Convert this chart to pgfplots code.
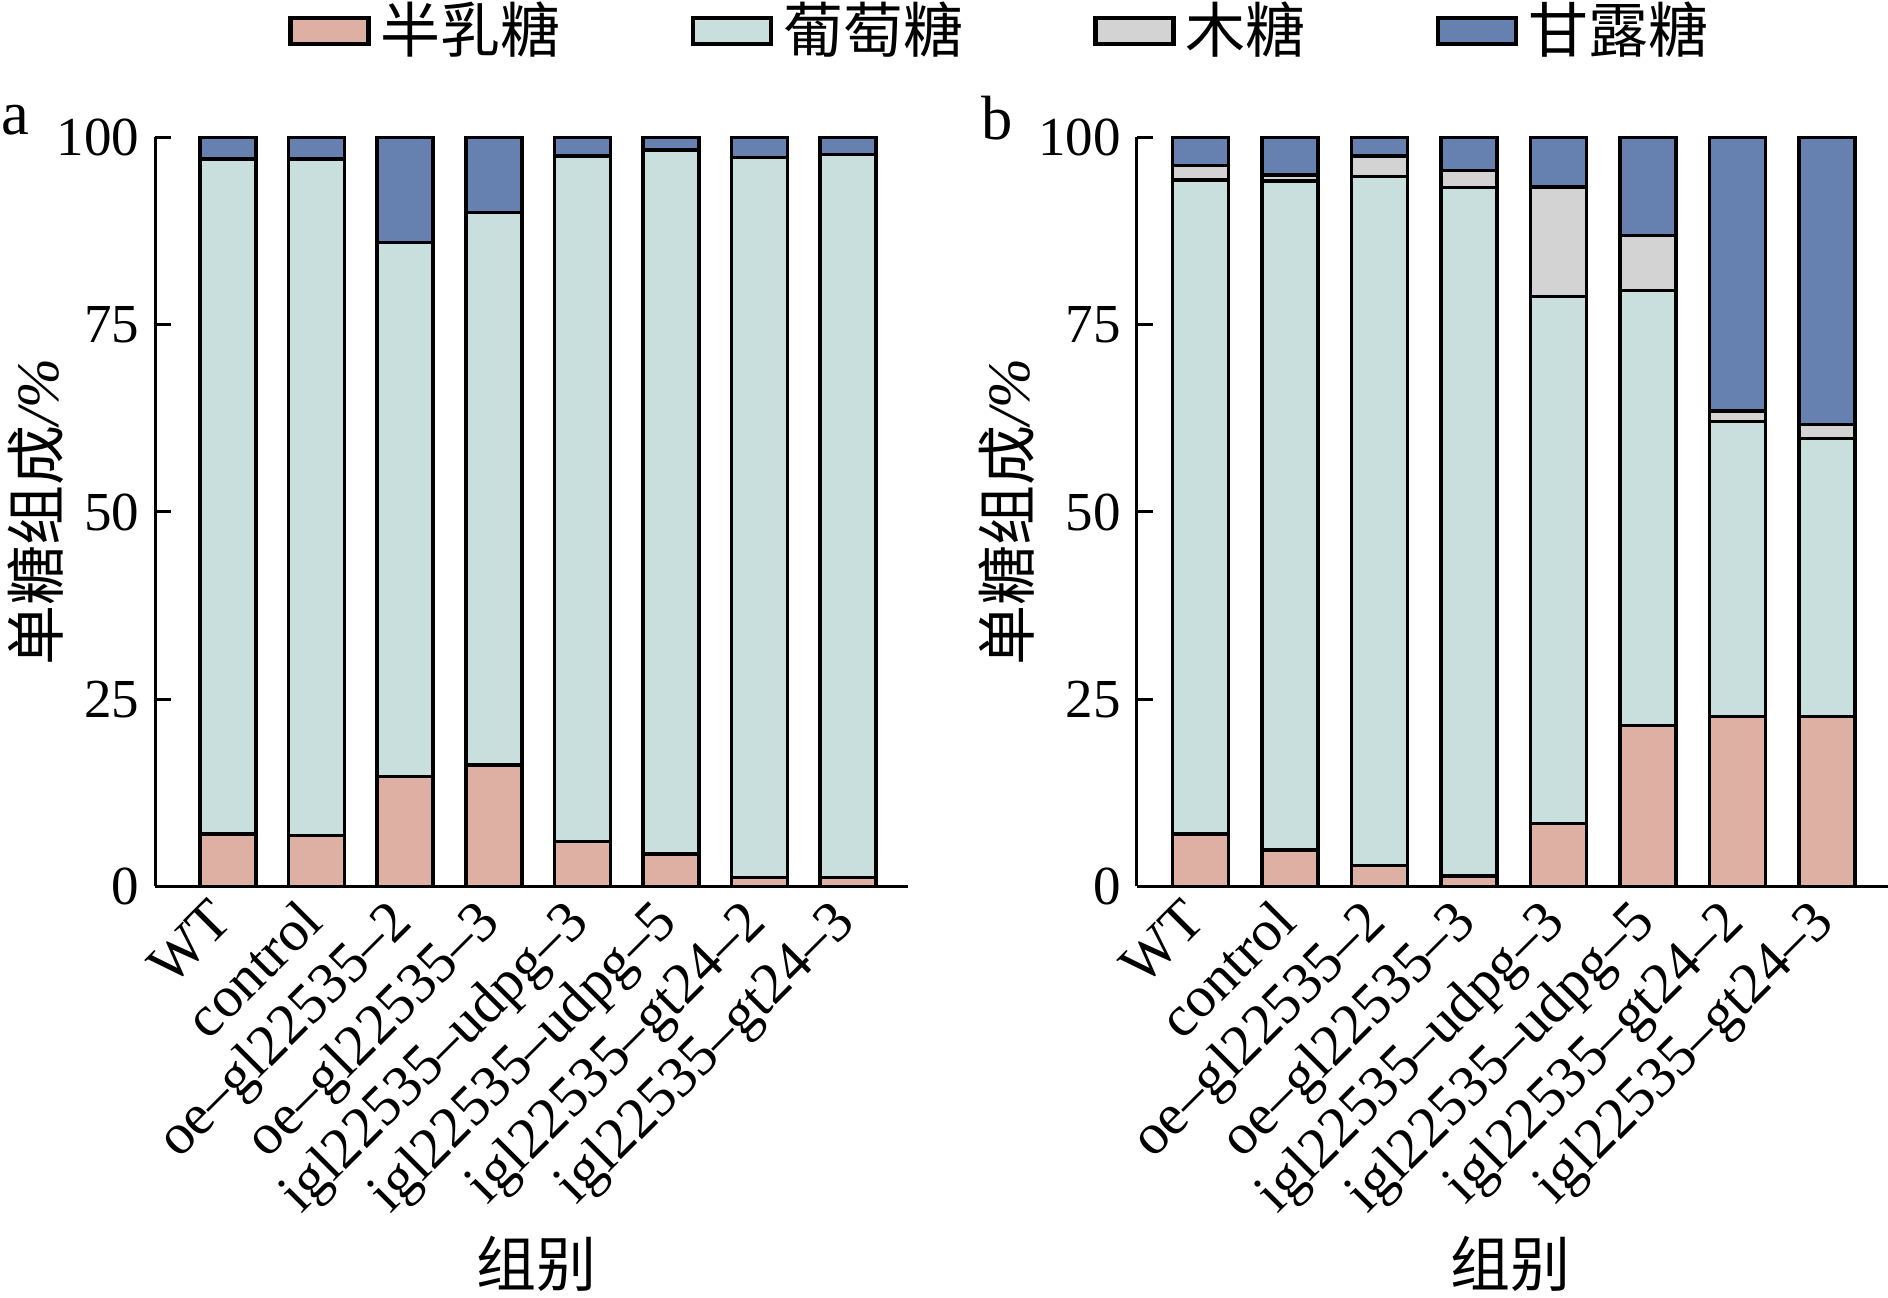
\documentclass[border=0pt]{standalone}
\usepackage{fontspec}
\setmainfont{Liberation Serif}
\newfontfamily\cjk{Noto Sans CJK SC}
\usepackage{pgfplots}
\usepackage{pgfplotstable}
\pgfplotsset{compat=1.18}
\definecolor{cgal}{HTML}{DEB0A4}
\definecolor{cglu}{HTML}{C8DFDD}
\definecolor{cxyl}{HTML}{D3D3D3}
\definecolor{cman}{HTML}{6680B0}

\pgfplotstableread{
x gal glu man
0 7.0 90.1 2.9
1 6.8 90.3 2.9
2 14.7 71.3 14.0
3 16.2 73.8 10.0
4 6.0 91.5 2.5
5 4.35 93.95 1.7
6 1.2 96.1 2.7
7 1.2 96.5 2.3
}\dataA
\pgfplotstableread{
x gal glu xyl man
0 7.0 87.3 1.95 3.75
1 4.9 89.3 0.8 5.0
2 2.8 92.0 2.7 2.5
3 1.43 91.87 2.3 4.4
4 8.4 70.4 14.6 6.6
5 21.5 58.05 7.35 13.1
6 22.7 39.4 1.4 36.5
7 22.7 37.1 1.9 38.3
}\dataB

\pgfplotsset{
  myaxis/.style={
    ybar stacked, bar width=11.2pt,
    scale only axis, height=149.8pt,
    ymin=0, ymax=100, ytick={0,25,50,75,100},
    xtick={0,...,7},
    xticklabels={WT,control,oe–gl22535–2,oe–gl22535–3,igl22535–udpg–3,igl22535–udpg–5,igl22535–gt24–2,igl22535–gt24–3},
    axis x line=bottom, axis y line=left,
    axis line style={-, line width=0.6pt, black},
    tick align=inside, major tick length=3.2pt,
    x tick style={draw=none},
    y tick style={line width=0.6pt, black},
    /pgf/number format/assume math mode=true,
    yticklabel style={font=\fontsize{11}{13}\selectfont, inner sep=0pt, xshift=-3pt},
    xticklabel style={xshift=-4pt, yshift=-0.3pt, rotate=45, anchor=north east, font=\fontsize{11.6}{14}\selectfont, inner sep=1pt},
    ylabel={{\cjk 单糖组成}{\itshape /\%}},
    ylabel style={font=\fontsize{12}{14}\selectfont},
    xlabel={\cjk 组别},
    xlabel style={font=\fontsize{12}{14}\selectfont, anchor=center},
    clip=false,
  },
  barst/.style={draw=black, line width=0.7pt},
}

\begin{document}
\begin{tikzpicture}
\useasboundingbox (0,0) rectangle (377.6pt,259.6pt);

\begin{axis}[myaxis,
  at={(31pt,82.3pt)}, anchor=south west,
  width=150.6pt, xmin=-0.824, xmax=7.675,
  ylabel style={at={(axis description cs:-0.158,0.5)}, anchor=center},
  xlabel style={at={(axis description cs:0.506,-0.504)}},
]
\addplot[barst, fill=cgal] table[x=x,y=gal]{\dataA};
\addplot[barst, fill=cglu] table[x=x,y=glu]{\dataA};
\addplot[barst, fill=cman] table[x=x,y=man]{\dataA};
\end{axis}

\begin{axis}[myaxis,
  at={(227.3pt,82.3pt)}, anchor=south west,
  width=150.3pt, xmin=-0.717, xmax=7.68,
  ylabel style={at={(axis description cs:-0.172,0.5)}, anchor=center},
  xlabel style={at={(axis description cs:0.498,-0.504)}},
  legend columns=4,
  legend style={draw=none, fill=none, at={(axis description cs:-0.177,1.142)}, anchor=center,
    font=\cjk\fontsize{12}{14}\selectfont,
    /tikz/every even column/.append style={column sep=24pt}},
  legend image code/.code={\draw[#1, line width=0.9pt] (0pt,-2.6pt) rectangle (15.6pt,2.6pt);},
]
\addplot[barst, fill=cgal] table[x=x,y=gal]{\dataB};
\addplot[barst, fill=cglu] table[x=x,y=glu]{\dataB};
\addplot[barst, fill=cxyl] table[x=x,y=xyl]{\dataB};
\addplot[barst, fill=cman] table[x=x,y=man]{\dataB};
\legend{半乳糖,葡萄糖,木糖,甘露糖}
\end{axis}

\node[font=\fontsize{12.5}{14}\selectfont] at (3.1pt,235.5pt) {a};
\node[font=\fontsize{12.5}{14}\selectfont] at (199.4pt,236pt) {b};
\end{tikzpicture}
\end{document}
